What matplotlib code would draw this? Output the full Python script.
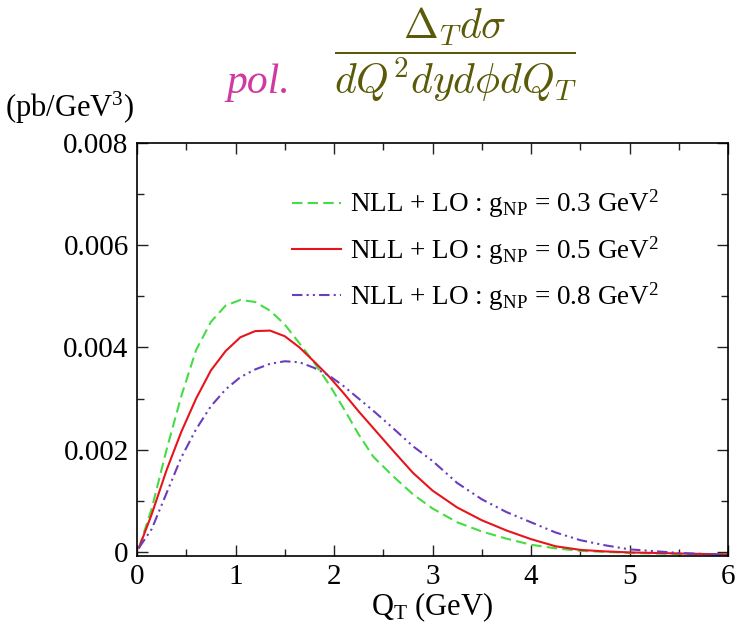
import matplotlib
matplotlib.use('Agg')
import matplotlib.pyplot as plt
from matplotlib.ticker import MultipleLocator

plt.rcParams['font.family'] = 'serif'
plt.rcParams['font.serif'] = ['Liberation Serif', 'DejaVu Serif']
plt.rcParams['mathtext.fontset'] = 'custom'
plt.rcParams['mathtext.rm'] = 'Liberation Serif'
plt.rcParams['mathtext.it'] = 'Liberation Serif:italic'

# Q_T grid (GeV) and polarized cross sections (pb/GeV^3)
qt = [0.02, 0.15, 0.3, 0.45, 0.6, 0.75, 0.9, 1.05, 1.2, 1.35, 1.5, 1.65, 1.8,
      1.95, 2.1, 2.25, 2.4, 2.6, 2.8, 3.0, 3.25, 3.5, 3.75, 4.0, 4.25, 4.5,
      4.75, 5.0, 5.5, 6.0]

g03 = [0.08, 0.85, 2.0, 3.05, 3.95, 4.5, 4.82, 4.93, 4.89, 4.72, 4.45, 4.08,
       3.70, 3.28, 2.80, 2.30, 1.86, 1.48, 1.13, 0.85, 0.58, 0.40, 0.26, 0.14,
       0.07, 0.02, 0.0, -0.02, -0.04, -0.05]

g05 = [0.08, 0.74, 1.6, 2.35, 3.0, 3.55, 3.93, 4.2, 4.32, 4.33, 4.22, 4.0,
       3.72, 3.43, 3.10, 2.75, 2.42, 1.98, 1.55, 1.2, 0.87, 0.62, 0.42, 0.25,
       0.11, 0.04, 0.01, -0.01, -0.03, -0.05]

g08 = [0.08, 0.45, 1.15, 1.85, 2.4, 2.85, 3.18, 3.42, 3.57, 3.68, 3.73, 3.71,
       3.60, 3.45, 3.24, 3.0, 2.76, 2.42, 2.07, 1.78, 1.35, 1.03, 0.78, 0.58,
       0.38, 0.23, 0.13, 0.05, -0.02, -0.06]

labels = [r'NLL + LO : g$_{\rm NP}$ = 0.3 GeV$^2$',
          r'NLL + LO : g$_{\rm NP}$ = 0.5 GeV$^2$',
          r'NLL + LO : g$_{\rm NP}$ = 0.8 GeV$^2$']

ytick_vals = [0.0, 0.002, 0.004, 0.006, 0.008]
ytick_text = ['0', '0.002', '0.004', '0.006', '0.008']
xtick_vals = [0, 1, 2, 3, 4, 5, 6]

W, H = 738, 626
fig = plt.figure(figsize=(W / 100, H / 100), dpi=100)
fig.patch.set_facecolor('white')
ax = fig.add_axes([137 / W, 1 - 556 / H, (728 - 137) / W, (556 - 143) / H])

scale = 1e-3
ax.plot(qt, [v * scale for v in g03], color='#44dd44', lw=1.5,
        dashes=(5, 2.5), label=labels[0])
ax.plot(qt, [v * scale for v in g05], color='#e8141c', lw=1.5,
        label=labels[1])
ax.plot(qt, [v * scale for v in g08], color='#6a3cc0', lw=1.5,
        dashes=(5, 2, 1, 2, 1, 2), label=labels[2])

ax.set_xlim(0, 6)
ax.set_ylim(-0.00008, 0.008)
ax.set_xticks(xtick_vals)
ax.set_yticks(ytick_vals)
ax.set_yticklabels(ytick_text)
ax.xaxis.set_minor_locator(MultipleLocator(0.5))
ax.yaxis.set_minor_locator(MultipleLocator(0.001))
ax.tick_params(which='both', direction='in', top=True, right=True,
               labelsize=21, width=1, color='#222222')
ax.tick_params(which='major', length=8, pad=6)
ax.tick_params(which='minor', length=5)
for s in ax.spines.values():
    s.set_linewidth(1.2)

ax.set_xlabel(r'Q$_{\rm T}$ (GeV)', fontsize=22, labelpad=0)

leg = ax.legend(loc='upper left', bbox_to_anchor=(292 / W, 1 - 188 / H),
                bbox_transform=fig.transFigure, frameon=False, fontsize=19.5,
                handlelength=1.8, handletextpad=0.35, labelspacing=0.5,
                borderpad=0, borderaxespad=0)

fig.text(5 / W, 1 - 117 / H, r'(pb/GeV$^3$)', fontsize=22, va='baseline')
fig.text(258 / W, 1 - 83 / H, 'pol.', fontsize=30, style='italic',
         color='#d03aa0', ha='center', va='center')
fig.text(455 / W, 1 - 55 / H,
         r'$\dfrac{\Delta_T d\sigma}{dQ^2 dy d\phi dQ_T}$',
         math_fontfamily='cm', fontsize=30, color='#5a5a08',
         ha='center', va='center')

fig.savefig('out.png', dpi=100, facecolor='white')
